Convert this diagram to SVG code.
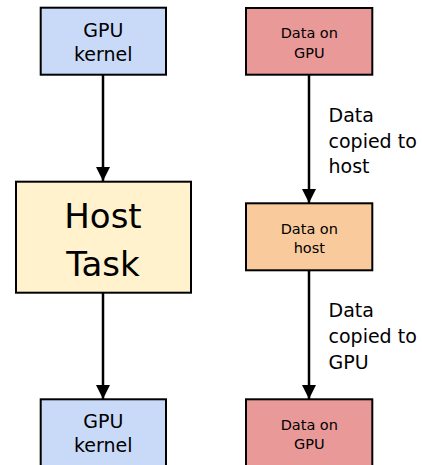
<svg xmlns="http://www.w3.org/2000/svg" width="422" height="465" viewBox="0 0 422 465">
<style>
.box{stroke:#000;stroke-width:2}
.t{font-family:"DejaVu Sans",sans-serif;fill:#000;text-anchor:middle}
.lbl{font-family:"DejaVu Sans",sans-serif;font-size:19px;fill:#000}
.edge{stroke:#000;stroke-width:2.5;fill:none;marker-end:url(#ah)}
</style>
<defs>
<marker id="ah" viewBox="0 0 14 14" refX="14" refY="7" markerWidth="14" markerHeight="14" markerUnits="userSpaceOnUse" orient="auto">
<path d="M0,0 L14,7 L0,14 Z" fill="#000"/>
</marker>
</defs>
<g id="connectors">
<path class="edge" d="M103,75 V181"/>
<path class="edge" d="M103,293 V399"/>
<path class="edge" d="M309,75 V203"/>
<path class="edge" d="M309,270 V399"/>
<text class="lbl" x="328.5" y="122">Data</text>
<text class="lbl" x="328.5" y="147.5">copied to</text>
<text class="lbl" x="328.5" y="173">host</text>
<text class="lbl" x="328.5" y="317">Data</text>
<text class="lbl" x="328.5" y="343">copied to</text>
<text class="lbl" x="328.5" y="369">GPU</text>
</g>
<g id="gpu-kernel-1">
<rect class="box" x="40.7" y="7.7" width="125.3" height="67" fill="#c9daf8"/>
<text class="t" font-size="19" x="103.3" y="36.7">GPU</text>
<text class="t" font-size="19" x="103.3" y="60.7">kernel</text>
</g>
<g id="host-task">
<rect class="box" x="16" y="181.7" width="175" height="111" fill="#fff2cc"/>
<text class="t" font-size="34" x="103" y="228">Host</text>
<text class="t" font-size="34" x="103" y="276">Task</text>
</g>
<g id="gpu-kernel-2">
<rect class="box" x="40.7" y="399.3" width="125.3" height="67" fill="#c9daf8"/>
<text class="t" font-size="19" x="103.3" y="428.3">GPU</text>
<text class="t" font-size="19" x="103.3" y="452.3">kernel</text>
</g>
<g id="data-gpu-1">
<rect class="box" x="246" y="8" width="126.3" height="66.7" fill="#ea9999"/>
<text class="t" font-size="14.5" x="309.3" y="38">Data on</text>
<text class="t" font-size="14.5" x="309.3" y="57.5">GPU</text>
</g>
<g id="data-host">
<rect class="box" x="246" y="203.3" width="126.3" height="67" fill="#f9cb9c"/>
<text class="t" font-size="14.5" x="309.3" y="233.5">Data on</text>
<text class="t" font-size="14.5" x="309.3" y="253">host</text>
</g>
<g id="data-gpu-2">
<rect class="box" x="246" y="399.3" width="126.3" height="67" fill="#ea9999"/>
<text class="t" font-size="14.5" x="309.3" y="429.5">Data on</text>
<text class="t" font-size="14.5" x="309.3" y="449">GPU</text>
</g>
</svg>
